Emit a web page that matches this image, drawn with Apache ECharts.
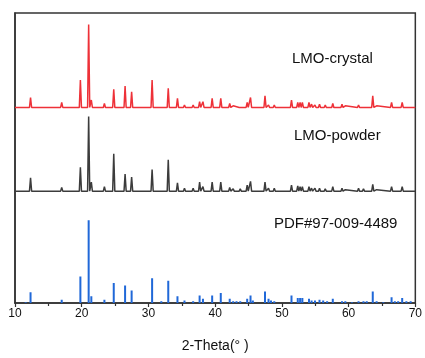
<!DOCTYPE html>
<html>
<head>
<meta charset="utf-8">
<script src="https://cdn.jsdelivr.net/npm/echarts@6/dist/echarts.min.js"></script>
<style>
  html, body { margin: 0; padding: 0; background: #fff; }
  #chart { width: 425px; height: 358px; }
</style>
</head>
<body>
<div id="chart"></div>
<script>
// peak lists: [2-theta, relative intensity (strongest = 100)]
const crystalPeaks = [
  [12.33, 12], [17.0, 6], [19.8, 33], [21.04, 100], [21.44, 9], [23.4, 5],
  [24.8, 22], [26.5, 26], [27.48, 19], [30.55, 33], [31.93, 2], [32.97, 23],
  [34.35, 11], [35.4, 3], [36.7, 3], [37.67, 7], [38.17, 7], [39.55, 11],
  [40.84, 11], [42.18, 5], [42.7, 2], [43.76, 2], [44.8, 6], [45.3, 12],
  [47.47, 14], [48.0, 3], [48.86, 3], [51.44, 9], [52.38, 6], [52.73, 6],
  [53.07, 6], [54.06, 6], [54.45, 4], [54.96, 3], [55.64, 4], [56.5, 3],
  [57.63, 5], [59.01, 4], [59.51, 2], [61.49, 3], [62.23, 2], [63.62, 14],
  [64.2, 2], [66.44, 6], [68.03, 6]
];
const powderPeaks = [
  [12.33, 18], [17.0, 5], [19.8, 32], [21.04, 100], [21.44, 12], [23.4, 6],
  [24.8, 50], [26.5, 23], [27.48, 19], [30.55, 29], [31.93, 2], [32.97, 42],
  [34.35, 11], [35.4, 4], [36.7, 4], [37.67, 12], [38.17, 6], [39.55, 12],
  [40.84, 12], [42.18, 5], [42.7, 3], [43.76, 3], [44.8, 8], [45.3, 13],
  [47.47, 12], [48.0, 4], [48.86, 4], [51.44, 8], [52.38, 7], [52.73, 6],
  [53.07, 6], [54.06, 6], [54.45, 4], [54.96, 4], [55.64, 4], [56.5, 3],
  [57.63, 6], [59.01, 4], [59.51, 2], [61.49, 4], [62.23, 3], [63.62, 9],
  [64.2, 2], [66.44, 6], [68.03, 6]
];
const pdfPeaks = [
  [11.6, 1], [12.33, 13], [17.0, 4], [19.8, 32], [21.04, 100], [21.44, 8],
  [23.4, 4], [24.8, 24], [26.5, 21], [27.48, 15], [30.55, 30], [31.93, 2],
  [32.97, 27], [34.35, 8], [35.4, 3], [36.7, 2], [37.67, 9], [38.17, 5],
  [39.55, 9], [40.84, 12], [42.18, 5], [42.7, 2], [43.2, 2], [43.76, 2],
  [44.8, 5], [45.3, 9], [45.65, 3], [47.47, 14], [48.0, 5], [48.37, 3],
  [48.86, 2], [51.44, 9], [52.38, 6], [52.73, 6], [53.07, 6], [54.06, 5],
  [54.45, 3], [54.96, 3], [55.64, 4], [56.19, 3], [56.78, 2], [57.63, 5],
  [59.01, 2], [59.51, 2], [60.5, 1], [61.49, 2], [62.23, 2], [62.72, 2],
  [63.62, 14], [64.2, 2], [65.2, 1], [66.44, 7], [66.93, 2], [67.43, 2],
  [68.03, 6], [68.66, 2], [69.3, 2]
];
const xTicks = [10, 20, 30, 40, 50, 60, 70];

// vertical stacking of the three patterns
const crystalOffset = 236, crystalScale = 1.0;
const powderOffset = 135, powderScale = 0.9;
const pdfOffset = 0, pdfScale = 1.0;
const halfWidth = 0.16;

function profile(peaks, offset, scale) {
  const pts = [[xTicks[0], offset]];
  peaks.forEach(([p, h]) => {
    pts.push([p - halfWidth, offset], [p, offset + h * scale], [p + halfWidth, offset]);
  });
  pts.push([xTicks[xTicks.length - 1], offset]);
  return pts;
}

function sticks(peaks, offset, scale) {
  const pts = [];
  peaks.forEach(([p, h]) => {
    pts.push([p, offset], [p, offset + h * scale], null);
  });
  return pts;
}

const chart = echarts.init(document.getElementById('chart'));
const font = 'Liberation Sans, Arial, sans-serif';

chart.setOption({
  animation: false,
  grid: {
    left: 15, right: 6, top: 13, bottom: 48,
    show: true, borderColor: '#333', borderWidth: 1.5
  },
  xAxis: {
    type: 'value',
    min: 10, max: 70, interval: 10,
    name: '2-Theta(° )',
    nameLocation: 'middle',
    nameGap: 36,
    nameTextStyle: { fontFamily: font, fontSize: 14, color: '#111' },
    axisLine: { lineStyle: { color: '#333', width: 1.5 } },
    axisTick: { length: 4, lineStyle: { color: '#333', width: 1.2 } },
    minorTick: { show: true, splitNumber: 2, length: 3, lineStyle: { color: '#333', width: 1.2 } },
    axisLabel: { fontFamily: font, fontSize: 12, color: '#111', margin: 5 },
    splitLine: { show: false }
  },
  yAxis: {
    type: 'value',
    min: 0, max: 350,
    axisLine: { show: true, lineStyle: { color: '#333', width: 1.5 } },
    axisTick: { show: false },
    axisLabel: { show: false },
    splitLine: { show: false }
  },
  graphic: [
    { type: 'text', left: 292, top: 51, style: { text: 'LMO-crystal', font: '15px ' + font, fill: '#111' } },
    { type: 'text', left: 294, top: 128, style: { text: 'LMO-powder', font: '15px ' + font, fill: '#111' } },
    { type: 'text', left: 274, top: 216, style: { text: 'PDF#97-009-4489', font: '15px ' + font, fill: '#111' } }
  ],
  series: [
    {
      name: 'LMO-crystal', type: 'line', showSymbol: false,
      data: profile(crystalPeaks, crystalOffset, crystalScale),
      lineStyle: { color: '#ee3138', width: 1.5 }
    },
    {
      name: 'LMO-powder', type: 'line', showSymbol: false,
      data: profile(powderPeaks, powderOffset, powderScale),
      lineStyle: { color: '#3c3c3c', width: 1.5 }
    },
    {
      name: 'PDF#97-009-4489', type: 'line', showSymbol: false, connectNulls: false,
      data: sticks(pdfPeaks, pdfOffset, pdfScale),
      lineStyle: { color: '#2068d8', width: 2 }
    }
  ]
});
</script>
</body>
</html>
